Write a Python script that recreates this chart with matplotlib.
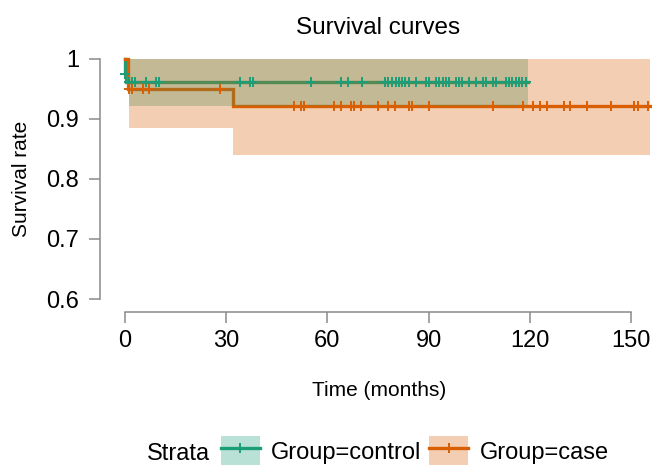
import numpy as np
import matplotlib
matplotlib.use("Agg")
import matplotlib.pyplot as plt
from matplotlib.patches import Patch
from matplotlib.lines import Line2D
from matplotlib.legend_handler import HandlerTuple

plt.rcParams['font.family'] = ['Liberation Sans', 'DejaVu Sans']

# survival steps (months, probability)
ctrl_times = [0, 0.1, 0.4]
ctrl_surv = [1.0, 0.975, 0.961]
ctrl_end = 119.5
ctrl_ci_times = [1.2]
ctrl_ci_low = [0.921]
ctrl_ci_high = [1.0]
ctrl_censor = [0.1, 1.3, 2.2, 3, 6.2, 9.2, 10.1, 34.1, 37, 38, 55.1, 64, 66.1, 70.2,
               77.2, 78.1, 79.2, 80.3, 81.1, 82.1, 83.1, 84.2, 86.2, 89.1, 90, 92.2,
               93.1, 94.2, 95.1, 96.1, 98.1, 99, 100, 102, 104.1, 106, 106.9, 109,
               110, 113, 113.8, 114.8, 115.8, 116.8, 117.8, 118.8]

case_times = [0, 1, 32]
case_surv = [1.0, 0.949, 0.9215]
case_end = 155.5
case_ci_times = [1.2, 32]
case_ci_low = [0.885, 0.839]
case_ci_high = [1.0, 1.0]
case_censor = [1.2, 2.2, 5.2, 7.1, 28.2, 50.2, 52.1, 53, 62.1, 64.1, 67, 68, 70.1, 75,
               78, 80.1, 84.1, 85.1, 90, 109, 118, 120.9, 123, 125, 130.2, 132, 137.1,
               144, 151, 152, 155]

x_ticks = [0, 30, 60, 90, 120, 150]
y_ticks = [0.6, 0.7, 0.8, 0.9, 1.0]
y_tick_labels = ['0.6', '0.7', '0.8', '0.9', '1']
labels = ['Group=control', 'Group=case']

green = '#1B9E77'
orange = '#D95F02'
axis_grey = '#8a8a8a'

fig = plt.figure(figsize=(6.52, 4.65), dpi=100)
ax = fig.add_axes([100 / 652, 1 - 311.7 / 465, 552 / 652, 265.2 / 465])


def surv_at(times, surv, t):
    i = np.searchsorted(times, t, side='right') - 1
    return np.asarray(surv)[i]


# curves first, ribbons over them, censor marks on top
for times, surv, end, col in [(ctrl_times, ctrl_surv, ctrl_end, green),
                              (case_times, case_surv, case_end, orange)]:
    ax.step(times + [end], surv + [surv[-1]], where='post', color=col, lw=2.4,
            zorder=1, solid_joinstyle='miter')

for ct, lo, hi, end, col, z in [(ctrl_ci_times, ctrl_ci_low, ctrl_ci_high, ctrl_end, green, 2),
                                (case_ci_times, case_ci_low, case_ci_high, case_end, orange, 3)]:
    ax.fill_between(ct + [end], lo + [lo[-1]], hi + [hi[-1]], step='post',
                    color=col, alpha=0.3, lw=0, zorder=z)

for times, surv, cens, col in [(ctrl_times, ctrl_surv, ctrl_censor, green),
                               (case_times, case_surv, case_censor, orange)]:
    ax.plot(cens, surv_at(times, surv, cens), ls='none', marker='+', ms=7.5,
            mew=1.4, color=col, zorder=4)

ax.set_xlim(-25 / 3.3733, 527 / 3.3733)
ax.set_ylim(0.5789, 1.02)
ax.set_xticks(x_ticks)
ax.set_yticks(y_ticks)
ax.set_yticklabels(y_tick_labels)

for s in ['top', 'right']:
    ax.spines[s].set_visible(False)
ax.spines['left'].set_bounds(0.6, 1.0)
ax.spines['bottom'].set_bounds(0, 150)
for s in ['left', 'bottom']:
    ax.spines[s].set_color(axis_grey)
    ax.spines[s].set_linewidth(1.1)
ax.tick_params(length=8, width=1.1, color=axis_grey, labelsize=17)
ax.tick_params(axis='y', pad=7)
ax.tick_params(axis='x', pad=5)
ax.patch.set_alpha(0)

fig.text(378 / 652, 1 - 34 / 465, 'Survival curves', ha='center', va='baseline', fontsize=17.5)
fig.text(379 / 652, 1 - 390 / 465, 'Time (months)', ha='center', va='center', fontsize=15)
fig.text(22 / 652, 1 - 179 / 465, 'Survival rate', ha='center', va='center',
         rotation=90, fontsize=15)

fig.text(147 / 652, 1 - 460 / 465, 'Strata', ha='left', va='baseline', fontsize=17)
handles = [(Patch(facecolor=green, alpha=0.3, lw=0),
            Line2D([], [], color=green, lw=2.4, marker='+', ms=7.5, mew=1.4)),
           (Patch(facecolor=orange, alpha=0.3, lw=0),
            Line2D([], [], color=orange, lw=2.4, marker='+', ms=7.5, mew=1.4))]
fig.legend(handles, labels, handler_map={tuple: HandlerTuple(ndivide=1, pad=0)},
           ncol=2, frameon=False, fontsize=17, numpoints=1,
           handlelength=1.65, handleheight=1.53, handletextpad=0.47,
           columnspacing=0.34, borderpad=0, borderaxespad=0,
           loc='center left', bbox_to_anchor=(221 / 652, 1 - 451 / 465),
           bbox_transform=fig.transFigure)

fig.savefig('out.png', dpi=100)
